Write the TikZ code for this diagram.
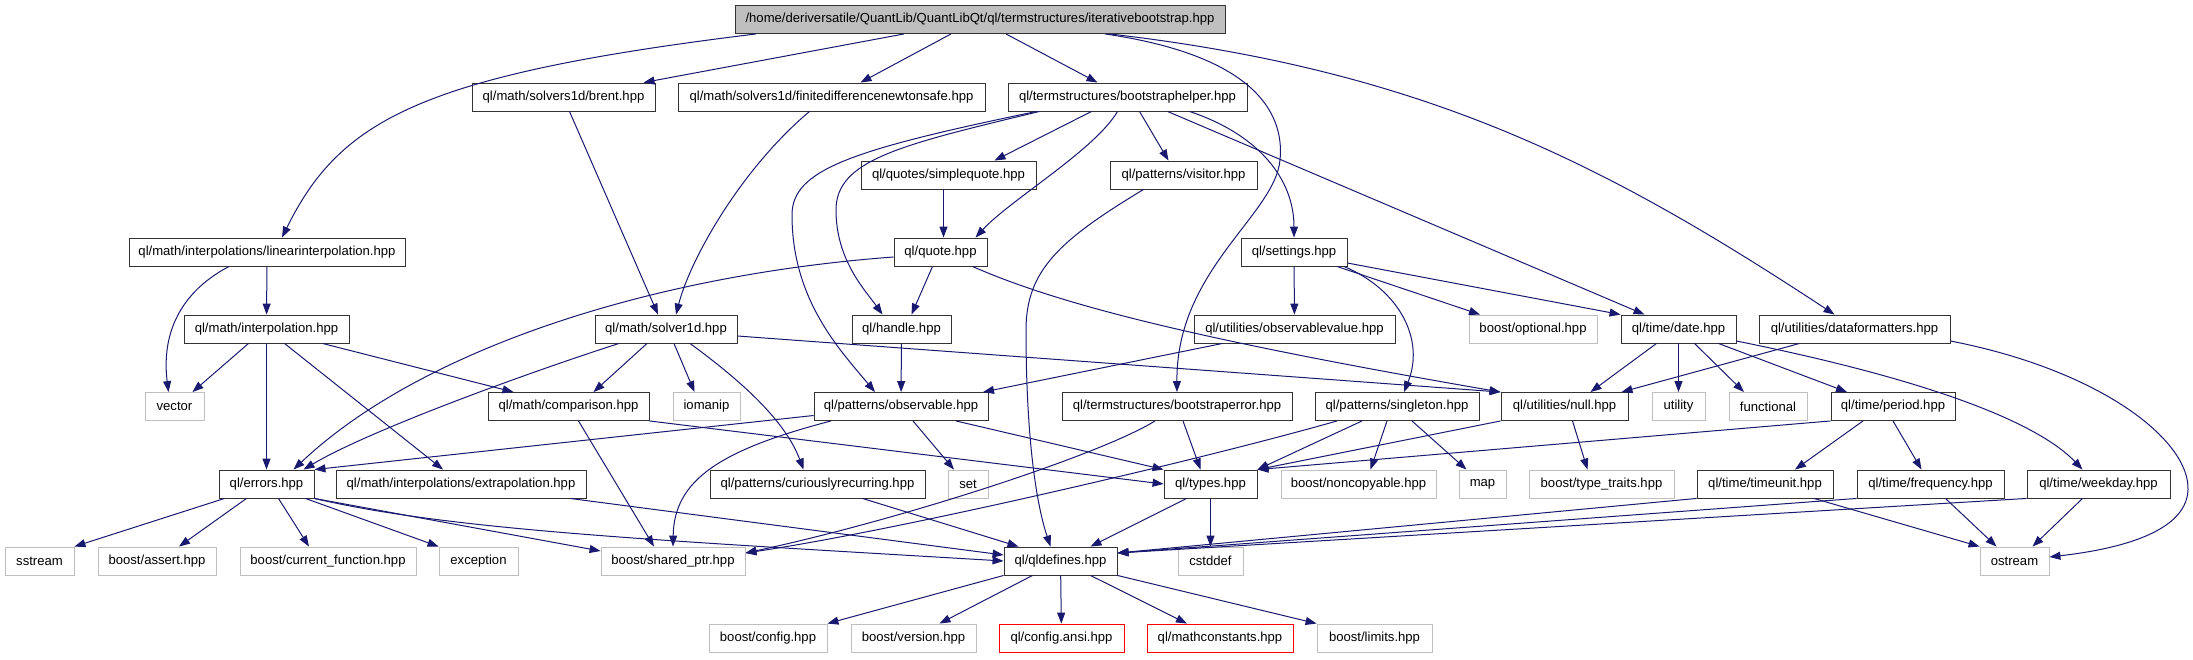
\documentclass[tikz,border=0pt]{standalone}
\usepackage{fontspec}
\setmainfont{Liberation Sans}
\usepackage{tikz}
\usetikzlibrary{arrows.meta}
\definecolor{edgeblue}{HTML}{191970}
\definecolor{boxgrey}{HTML}{BFBFBF}
\tikzset{
  hfile/.style={draw=black!80, line width=0.9pt, fill=white, minimum height=28pt,
    inner sep=0pt, font=\fontsize{13.1}{15}\selectfont},
  sysfile/.style={hfile, draw=boxgrey},
  badfile/.style={hfile, draw=red},
  topfile/.style={hfile, fill=boxgrey},
  dep/.style={draw=edgeblue, line width=1pt, -{Triangle[length=11pt,width=8pt]}}
}

\begin{document}
\begin{tikzpicture}[x=1pt, y=-1pt]
\useasboundingbox (0,0) rectangle (2193,659);
\node[topfile, minimum width=490pt] (root) at (980,19.5) {/home/deriversatile/QuantLib/QuantLibQt/ql/termstructures/iterativebootstrap.hpp};

\node[hfile, minimum width=183pt] (brent) at (563.5,97) {ql/math/solvers1d/brent.hpp};
\node[hfile, minimum width=307pt] (finitediff) at (831.5,97) {ql/math/solvers1d/finitedifferencenewtonsafe.hpp};
\node[hfile, minimum width=239pt] (bshelper) at (1127.5,97) {ql/termstructures/bootstraphelper.hpp};

\node[hfile, minimum width=175pt] (simplequote) at (948.5,175) {ql/quotes/simplequote.hpp};
\node[hfile, minimum width=147pt] (visitor) at (1183.5,175) {ql/patterns/visitor.hpp};

\node[hfile, minimum width=276pt] (linearinterp) at (267,252) {ql/math/interpolations/linearinterpolation.hpp};
\node[hfile, minimum width=93pt] (quote) at (940.5,252) {ql/quote.hpp};
\node[hfile, minimum width=106pt] (settings) at (1294,252) {ql/settings.hpp};

\node[hfile, minimum width=165pt] (interpolation) at (266.5,329) {ql/math/interpolation.hpp};
\node[hfile, minimum width=142pt] (solver) at (666,329) {ql/math/solver1d.hpp};
\node[hfile, minimum width=99pt] (handle) at (901.5,329) {ql/handle.hpp};
\node[hfile, minimum width=201pt] (obsvalue) at (1294.5,329) {ql/utilities/observablevalue.hpp};
\node[sysfile, minimum width=128pt] (optional) at (1533,329) {boost/optional.hpp};
\node[hfile, minimum width=115pt] (date) at (1678.5,329) {ql/time/date.hpp};
\node[hfile, minimum width=191pt] (dataformat) at (1854.5,329) {ql/utilities/dataformatters.hpp};

\node[sysfile, minimum width=59pt] (vector) at (174.5,406.5) {vector};
\node[hfile, minimum width=161pt] (comparison) at (568.5,406.5) {ql/math/comparison.hpp};
\node[sysfile, minimum width=67pt] (iomanip) at (706.5,406.5) {iomanip};
\node[hfile, minimum width=174pt] (observable) at (901,406.5) {ql/patterns/observable.hpp};
\node[hfile, minimum width=230pt] (bserror) at (1177,406.5) {ql/termstructures/bootstraperror.hpp};
\node[hfile, minimum width=164pt] (singleton) at (1397,406.5) {ql/patterns/singleton.hpp};
\node[hfile, minimum width=127pt] (null) at (1564.5,406.5) {ql/utilities/null.hpp};
\node[sysfile, minimum width=53pt] (utility) at (1678.5,406.5) {utility};
\node[sysfile, minimum width=78pt] (functional) at (1768,406.5) {functional};
\node[hfile, minimum width=124pt] (period) at (1893,406.5) {ql/time/period.hpp};

\node[hfile, minimum width=95pt] (errors) at (266.5,484) {ql/errors.hpp};
\node[hfile, minimum width=250pt] (extrapolation) at (461,484) {ql/math/interpolations/extrapolation.hpp};
\node[hfile, minimum width=215pt] (curious) at (817.5,484) {ql/patterns/curiouslyrecurring.hpp};
\node[sysfile, minimum width=40pt] (set) at (968,484) {set};
\node[hfile, minimum width=93pt] (types) at (1210.5,484) {ql/types.hpp};
\node[sysfile, minimum width=155pt] (noncopyable) at (1358.5,484) {boost/noncopyable.hpp};
\node[sysfile, minimum width=47pt] (map) at (1482.5,484) {map};
\node[sysfile, minimum width=145pt] (typetraits) at (1601.5,484) {boost/type\_traits.hpp};
\node[hfile, minimum width=136pt] (timeunit) at (1765,484) {ql/time/timeunit.hpp};
\node[hfile, minimum width=147pt] (frequency) at (1930.5,484) {ql/time/frequency.hpp};
\node[hfile, minimum width=143pt] (weekday) at (2098.5,484) {ql/time/weekday.hpp};

\node[sysfile, minimum width=69pt] (sstream) at (39.5,561) {sstream};
\node[sysfile, minimum width=118pt] (assert) at (157,561) {boost/assert.hpp};
\node[sysfile, minimum width=176pt] (curfunc) at (328,561) {boost/current\_function.hpp};
\node[sysfile, minimum width=79pt] (exception) at (478.5,561) {exception};
\node[sysfile, minimum width=144pt] (sharedptr) at (673,561) {boost/shared\_ptr.hpp};
\node[hfile, minimum width=113pt] (qldefines) at (1060.5,561) {ql/qldefines.hpp};
\node[sysfile, minimum width=65pt] (cstddef) at (1210.5,561) {cstddef};
\node[sysfile, minimum width=69pt] (ostream) at (2014.5,561) {ostream};

\node[sysfile, minimum width=118pt] (config) at (768,638) {boost/config.hpp};
\node[sysfile, minimum width=125pt] (version) at (913.5,638) {boost/version.hpp};
\node[badfile, minimum width=125pt] (configansi) at (1061.5,638) {ql/config.ansi.hpp};
\node[badfile, minimum width=146pt] (mathconst) at (1220,638) {ql/mathconstants.hpp};
\node[sysfile, minimum width=115pt] (limits) at (1374.5,638) {boost/limits.hpp};

\draw[dep] ([xshift=-224pt]root.south) .. controls (420,75) and (340,120) .. ([xshift=15pt]linearinterp.north);
\draw[dep] ([xshift=-76pt]root.south) -- ([xshift=80pt]brent.north);
\draw[dep] ([xshift=-29pt]root.south) -- ([xshift=29pt]finitediff.north);
\draw[dep] ([xshift=26pt]root.south) -- ([xshift=-30pt]bshelper.north);
\draw[dep] ([xshift=125pt]root.south) .. controls (1250,55) and (1285,110) .. (1280,160)
  .. controls (1275,215) and (1176,270) .. (bserror.north);
\draw[dep] ([xshift=130pt]root.south) .. controls (1420,70) and (1600,160) .. ([xshift=-20pt]dataformat.north);

\draw[dep] ([xshift=-36pt]bshelper.south) -- ([xshift=46pt]simplequote.north);
\draw[dep] ([xshift=-10pt]bshelper.south) .. controls (1095,150) and (1010,200) .. ([xshift=35pt]quote.north);
\draw[dep] ([xshift=12pt]bshelper.south) -- ([xshift=-15pt]visitor.north);
\draw[dep] ([xshift=62pt]bshelper.south) .. controls (1260,135) and (1294,180) .. (settings.north);
\draw[dep] ([xshift=40pt]bshelper.south) -- ([xshift=-34pt]date.north);
\draw[dep] ([xshift=-88pt]bshelper.south) .. controls (900,145) and (836,160) .. (836,210)
  .. controls (836,260) and (865,290) .. ([xshift=-19pt]handle.north);
\draw[dep] ([xshift=-91pt]bshelper.south) .. controls (850,150) and (792,170) .. (792,215)
  .. controls (792,300) and (840,350) .. ([xshift=-26pt]observable.north);

\draw[dep] ([xshift=6pt]brent.south) -- ([xshift=-8pt]solver.north);
\draw[dep] ([xshift=-22pt]finitediff.south) .. controls (740,170) and (690,260) .. ([xshift=10pt]solver.north);
\draw[dep] ([xshift=-5pt]simplequote.south) -- ([xshift=3pt]quote.north);
\draw[dep] ([xshift=-40pt]visitor.south) .. controls (1060,240) and (1026,270) .. (1026,330)
  .. controls (1026,430) and (1035,500) .. ([xshift=-10pt]qldefines.north);

\draw[dep] ([xshift=-38pt]linearinterp.south) .. controls (175,295) and (162,340) .. ([xshift=-6pt]vector.north);
\draw[dep] (linearinterp) -- (interpolation);

\draw[dep] ([yshift=-5pt]quote.west) .. controls (650,275) and (420,350) .. ([xshift=27pt]errors.north);
\draw[dep] ([xshift=-8pt]quote.south) -- ([xshift=10pt]handle.north);
\draw[dep] ([xshift=32pt]quote.south) .. controls (1060,305) and (1200,340) .. (null.north west);

\draw[dep] (settings) -- (obsvalue);
\draw[dep] ([xshift=43pt]settings.south) -- ([xshift=-53pt]optional.north);
\draw[dep] ([yshift=-11pt]settings.east) -- (date.north west);
\draw[dep] ([xshift=50pt]settings.south) .. controls (1400,290) and (1425,340) .. ([xshift=7pt]singleton.north);

\draw[dep] ([xshift=-18pt]interpolation.south) -- ([xshift=18pt]vector.north);
\draw[dep] (interpolation) -- (errors);
\draw[dep] ([xshift=18pt]interpolation.south) -- ([xshift=-18pt]extrapolation.north);
\draw[dep] ([xshift=56pt]interpolation.south) -- ([xshift=-55pt]comparison.north);

\draw[dep] ([xshift=-47pt]solver.south) .. controls (530,372) and (370,430) .. ([xshift=37pt]errors.north);
\draw[dep] ([xshift=-19pt]solver.south) -- ([xshift=25pt]comparison.north);
\draw[dep] ([xshift=8pt]solver.south) -- ([xshift=-12pt]iomanip.north);
\draw[dep] ([xshift=24pt]solver.south) .. controls (740,380) and (785,420) .. ([xshift=-14pt]curious.north);
\draw[dep] ([yshift=-7pt]solver.east) -- (null.north west);

\draw[dep] (handle) -- (observable);
\draw[dep] ([xshift=-72pt]obsvalue.south) -- ([xshift=82pt]observable.north);

\draw[dep] ([xshift=-22pt]date.south) -- ([xshift=26pt]null.north);
\draw[dep] (date) -- (utility);
\draw[dep] ([xshift=16pt]date.south) -- ([xshift=-24pt]functional.north);
\draw[dep] ([xshift=40pt]date.south) -- ([xshift=-46pt]period.north);
\draw[dep] ([yshift=-12pt]date.east) .. controls (1940,382) and (2040,425) .. ([xshift=-16pt]weekday.north);

\draw[dep] ([xshift=-55pt]dataformat.south) -- ([xshift=57pt]null.north);
\draw[dep] ([yshift=-12pt]dataformat.east) .. controls (2100,370) and (2190,440) .. (2188,490)
  .. controls (2186,535) and (2110,550) .. ([yshift=4pt]ostream.east);

\draw[dep] ([xshift=10pt]comparison.south) -- ([xshift=-19pt]sharedptr.north);
\draw[dep] (comparison.south east) -- (types.west);

\draw[dep] ([yshift=-9pt]observable.west) -- (errors.north east);
\draw[dep] ([xshift=12pt]observable.south) -- ([xshift=-14pt]set.north);
\draw[dep] ([xshift=-70pt]observable.south) .. controls (720,450) and (674,480) .. (sharedptr.north);
\draw[dep] ([xshift=55pt]observable.south) -- (types.north west);

\draw[dep] ([xshift=6pt]bserror.south) -- ([xshift=-10pt]types.north);
\draw[dep] ([xshift=-22pt]bserror.south) .. controls (1100,455) and (900,520) .. ([yshift=8pt]sharedptr.east);

\draw[dep] ([xshift=-35pt]singleton.south) -- (types.north east);
\draw[dep] ([xshift=-60pt]singleton.south) .. controls (1200,460) and (900,530) .. ([yshift=8pt]sharedptr.east);
\draw[dep] ([xshift=-10pt]singleton.south) -- ([xshift=12pt]noncopyable.north);
\draw[dep] ([xshift=15pt]singleton.south) -- ([xshift=-16pt]map.north);

\draw[dep] (null.south west) -- (types.north east);
\draw[dep] ([xshift=8pt]null.south) -- ([xshift=-14pt]typetraits.north);

\draw[dep] (period.south west) -- (types.north east);
\draw[dep] ([xshift=-30pt]period.south) -- ([xshift=30pt]timeunit.north);
\draw[dep] (period.south) -- ([xshift=-9pt]frequency.north);

\draw[dep] (timeunit.south west) -- ([yshift=8pt]qldefines.east);
\draw[dep] ([xshift=49pt]timeunit.south) -- (ostream.north west);
\draw[dep] (frequency.south west) -- ([yshift=8pt]qldefines.east);
\draw[dep] ([xshift=15pt]frequency.south) -- ([xshift=-18pt]ostream.north);
\draw[dep] (weekday.south west) -- ([yshift=8pt]qldefines.east);
\draw[dep] ([xshift=-16pt]weekday.south) -- ([xshift=18pt]ostream.north);

\draw[dep] ([xshift=-24pt]types.south) -- ([xshift=30pt]qldefines.north);
\draw[dep] (types) -- (cstddef);

\draw[dep] ([xshift=-42pt]errors.south) -- (sstream.north east);
\draw[dep] ([xshift=-20pt]errors.south) -- ([xshift=22pt]assert.north);
\draw[dep] ([xshift=12pt]errors.south) -- ([xshift=-19pt]curfunc.north);
\draw[dep] ([xshift=39pt]errors.south) -- (exception.north west);
\draw[dep] (errors.south east) -- ([yshift=10pt]sharedptr.west);
\draw[dep] (errors.south east) .. controls (450,530) and (650,540) .. (qldefines.west);

\draw[dep] ([xshift=109pt]extrapolation.south) -- ([yshift=6pt]qldefines.west);
\draw[dep] ([xshift=45pt]curious.south) -- ([xshift=-42pt]qldefines.north);

\draw[dep] (qldefines.south west) -- (config.north east);
\draw[dep] ([xshift=-28pt]qldefines.south) -- ([xshift=26pt]version.north);
\draw[dep] (qldefines) -- (configansi);
\draw[dep] ([xshift=30pt]qldefines.south) -- ([xshift=-33pt]mathconst.north);
\draw[dep] (qldefines.south east) -- (limits.north west);
\end{tikzpicture}
\end{document}
